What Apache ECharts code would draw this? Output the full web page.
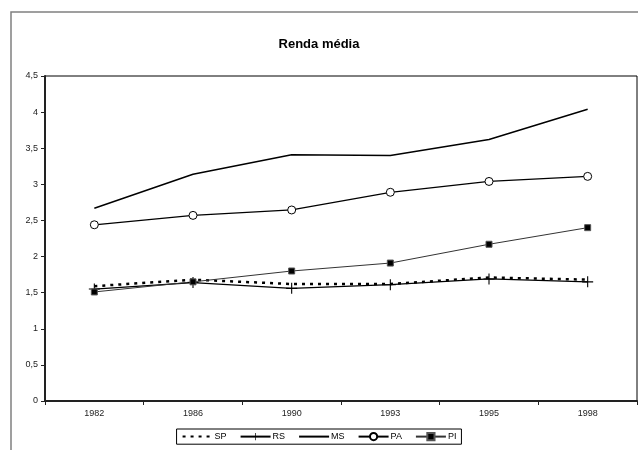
<!DOCTYPE html>
<html>
<head>
<meta charset="utf-8">
<script src="https://cdn.jsdelivr.net/npm/echarts@6/dist/echarts.min.js"></script>
<style>html,body{margin:0;padding:0;background:#fff;}#c{width:638px;height:450px;}</style>
</head>
<body>
<div id="c"></div>
<script>
const categories = ['1982', '1986', '1990', '1993', '1995', '1998'];
const SP = [1.59, 1.68, 1.62, 1.62, 1.71, 1.68];
const RS = [1.55, 1.64, 1.56, 1.61, 1.69, 1.65];
const MS = [2.67, 3.14, 3.41, 3.40, 3.62, 4.04];
const PA = [2.44, 2.57, 2.645, 2.89, 3.04, 3.11];
const PI = [1.51, 1.65, 1.80, 1.91, 2.17, 2.40];
const yTicks = [0, 0.5, 1, 1.5, 2, 2.5, 3, 3.5, 4, 4.5];

const font = 'Liberation Sans, Arial, sans-serif';
const chart = echarts.init(document.getElementById('c'), null, {renderer: 'canvas'});
const plus = 'path://M0,4.5H10V5.5H0Z M4.5,0H5.5V10H4.5Z';
const hidden = {color: 'rgba(0,0,0,0)', borderColor: 'rgba(0,0,0,0)', borderWidth: 0};
chart.setOption({
  animation: false,
  backgroundColor: '#fff',
  title: {
    text: 'Renda média', left: 'center', top: 33,
    textStyle: {fontFamily: font, fontSize: 13, fontWeight: 'bold', color: '#000'}
  },
  graphic: [{
    type: 'rect', shape: {x: 11, y: 12, width: 700, height: 500},
    style: {fill: 'none', stroke: '#808080', lineWidth: 1.5}, silent: true, z: -1
  }],
  grid: {left: 45, top: 76, right: 1, bottom: 49, show: true, borderColor: '#000', borderWidth: 1, backgroundColor: '#fff'},
  legend: {
    left: 'center', top: 429, padding: [3, 5], itemGap: 13, itemWidth: 30, itemHeight: 9,
    borderColor: '#000', borderWidth: 1,
    textStyle: {fontFamily: font, fontSize: 9, color: '#000', padding: [0, 0, 0, -3]},
    data: [
      {name: 'SP', itemStyle: hidden},
      'RS',
      {name: 'MS', itemStyle: hidden},
      'PA', 'PI'
    ]
  },
  xAxis: {
    type: 'category', data: categories, boundaryGap: true,
    axisLine: {lineStyle: {color: '#222', width: 2}},
    axisTick: {show: true, length: 4, lineStyle: {color: '#222'}},
    axisLabel: {fontFamily: font, fontSize: 9, color: '#222', margin: 8}
  },
  yAxis: {
    type: 'value', min: 0, max: 4.5, interval: 0.5,
    axisLine: {show: true, lineStyle: {color: '#222', width: 2}},
    axisTick: {show: true, length: 4, lineStyle: {color: '#222'}},
    splitLine: {show: false},
    axisLabel: {fontFamily: font, fontSize: 9, color: '#222', margin: 7,
      formatter: v => String(v).replace('.', ',')}
  },
  series: [
    {name: 'SP', type: 'line', data: SP, symbol: 'none',
      lineStyle: {color: '#000', width: 2.5, type: [3, 5]}, itemStyle: {color: '#000'}},
    {name: 'RS', type: 'line', data: RS, symbol: plus, symbolSize: 11,
      lineStyle: {color: '#000', width: 1.3}, itemStyle: {color: '#000'}},
    {name: 'MS', type: 'line', data: MS, symbol: 'none',
      lineStyle: {color: '#000', width: 1.5}, itemStyle: {color: '#000'}},
    {name: 'PA', type: 'line', data: PA, symbol: 'circle', symbolSize: 8,
      lineStyle: {color: '#000', width: 1.3},
      itemStyle: {color: '#fff', borderColor: '#000', borderWidth: 1}},
    {name: 'PI', type: 'line', data: PI, symbol: 'rect', symbolSize: 6,
      lineStyle: {color: '#333', width: 1},
      itemStyle: {color: '#000', borderColor: '#555', borderWidth: 1}}
  ]
});
</script>
</body>
</html>
